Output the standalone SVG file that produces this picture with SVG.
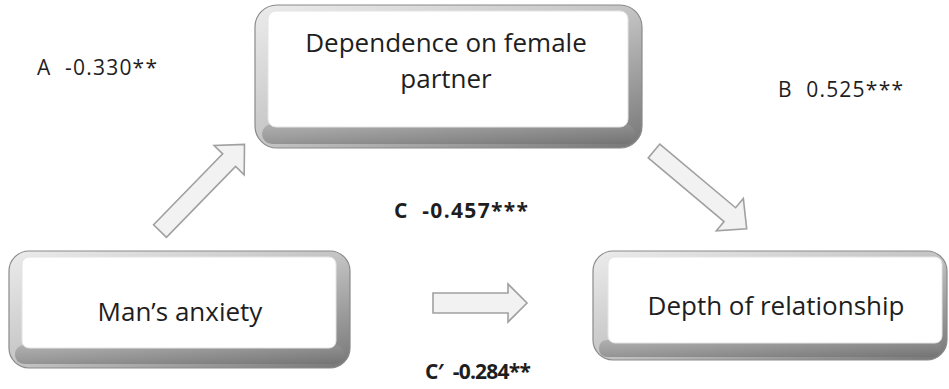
<svg xmlns="http://www.w3.org/2000/svg" width="949" height="389" viewBox="0 0 949 389">
  <defs>
    <linearGradient id="bevel" x1="0" y1="0" x2="1" y2="1">
      <stop offset="0" stop-color="#ececec"/>
      <stop offset="0.5" stop-color="#c4c4c4"/>
      <stop offset="1" stop-color="#767676"/>
    </linearGradient>
    <linearGradient id="bottom" x1="0" y1="0" x2="0" y2="1">
      <stop offset="0" stop-color="#9a9a9a"/>
      <stop offset="1" stop-color="#6e6e6e"/>
    </linearGradient>
    <style>
      .outer { fill: url(#bevel); stroke: #8a8a8a; stroke-width: 1.2; }
      .face { fill: #ffffff; stroke: #e4e4e4; stroke-width: 1; }
      .node-text { font-family: "Open Sans", "Noto Sans", sans-serif; font-size: 26px; fill: #1e1e1e; text-anchor: middle; }
      .lbl { font-family: "Open Sans", "Noto Sans", sans-serif; font-size: 21px; fill: #1e1e1e; white-space: pre; }
      .lbl-b { font-weight: bold; }
      .arrow { fill: #f2f2f2; stroke: #a0a0a0; stroke-width: 1.6; stroke-linejoin: miter; }
    </style>
    <path id="blockArrow" d="M0,-9 L99,-9 L99,-21 L121,0 L99,21 L99,9 L0,9 Z"/>
  </defs>

  <g id="node-dependence">
    <rect class="outer" x="255" y="5" width="387" height="143" rx="22"/>
    <rect x="262" y="124" width="373" height="20" rx="10" fill="url(#bottom)" opacity="0.55"/>
    <rect class="face" x="268" y="11" width="360" height="116" rx="8"/>
    <text class="node-text" x="446" y="52">Dependence on female</text>
    <text class="node-text" x="446" y="88">partner</text>
  </g>

  <g id="node-anxiety">
    <rect class="outer" x="9" y="251" width="341" height="117" rx="20"/>
    <rect x="15" y="345" width="329" height="19" rx="9" fill="url(#bottom)" opacity="0.55"/>
    <rect class="face" x="22" y="257" width="314" height="91" rx="7"/>
    <text class="node-text" x="180" y="321">Man’s anxiety</text>
  </g>

  <g id="node-depth">
    <rect class="outer" x="593" y="251" width="354" height="109" rx="20"/>
    <rect x="599" y="340" width="342" height="17" rx="8" fill="url(#bottom)" opacity="0.55"/>
    <rect class="face" x="608" y="257" width="334" height="86" rx="7"/>
    <text class="node-text" x="776" y="315">Depth of relationship</text>
  </g>

  <g id="connectors">
    <use href="#blockArrow" class="arrow" transform="translate(160,231) rotate(-45.7)"/>
    <use href="#blockArrow" class="arrow" transform="translate(654,151) rotate(40)"/>
    <path class="arrow" d="M433,293 L508,293 L508,284 L527,303 L508,322 L508,313 L433,313 Z"/>
  </g>

  <g id="labels">
    <text class="lbl" x="37" y="75" textLength="120">A  -0.330**</text>
    <text class="lbl" x="778" y="97" textLength="125">B  0.525***</text>
    <text class="lbl lbl-b" x="394" y="218" textLength="134">C  -0.457***</text>
    <text class="lbl lbl-b" x="425" y="379" textLength="106">C′  -0.284**</text>
  </g>
</svg>
